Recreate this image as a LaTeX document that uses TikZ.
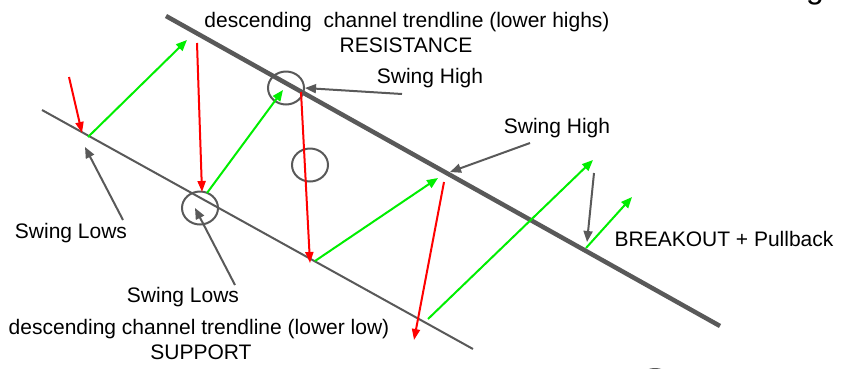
\documentclass[tikz,border=0pt]{standalone}
\usepackage{fontspec}
\setmainfont{Liberation Sans}
\usetikzlibrary{arrows.meta,shapes.geometric}
\definecolor{lgray}{HTML}{595959}
\definecolor{gred}{HTML}{FF0000}
\definecolor{ggreen}{HTML}{00EE00}
\begin{document}
\begin{tikzpicture}[x=1pt,y=-1pt,
  lbl/.style={inner sep=0pt, font=\fontsize{21}{25}\selectfont, anchor=base},
  redarr/.style={draw=gred, line width=2pt, -{Triangle[length=11pt,width=8pt]}},
  greenarr/.style={draw=ggreen, line width=2pt, -{Triangle[length=11pt,width=9pt]}},
  grayarr/.style={draw=lgray, line width=2pt, -{Triangle[length=11pt,width=9pt]}},
  ring/.style={draw=lgray, line width=2pt, ellipse, inner sep=0pt, minimum width=36pt, minimum height=33pt},
  resline/.style={draw=lgray, line width=4.5pt},
  supline/.style={draw=lgray, line width=2pt}]
\useasboundingbox (0,0) rectangle (845,368);
\clip (0,0) rectangle (845,368);
% trendlines
\coordinate (R1) at (166,16); \coordinate (R2) at (720,326);
\coordinate (S1) at (42,110); \coordinate (S2) at (473,349);
\draw[resline] (R1) -- (R2);
\draw[supline] (S1) -- (S2);
% circles
\node[ring] (c1) at (286,88) {};
\node[ring] (c2) at (310,165) {};
\node[ring] (c3) at (200,208) {};
\node[ring] (c4) at (655,385.5) {};
% red arrows
\coordinate (ra1) at (69,77);  \coordinate (rb1) at (82,133);
\coordinate (ra2) at (197,43); \coordinate (rb2) at (202,192);
\coordinate (ra3) at (301,92); \coordinate (rb3) at (310,263);
\coordinate (ra4) at (444,182); \coordinate (rb4) at (414,340);
\draw[redarr] (ra1) -- (rb1);
\draw[redarr] (ra2) -- (rb2);
\draw[redarr] (ra3) -- (rb3);
\draw[redarr] (ra4) -- (rb4);
% green arrows
\coordinate (ga1) at (88,137);  \coordinate (gb1) at (187,40);
\coordinate (ga2) at (207,193); \coordinate (gb2) at (283,90);
\coordinate (ga3) at (315,261); \coordinate (gb3) at (438,178);
\coordinate (ga4) at (428,319); \coordinate (gb4) at (593,160);
\coordinate (ga5) at (586,248); \coordinate (gb5) at (632,197);
\draw[greenarr] (ga1) -- (gb1);
\draw[greenarr] (ga2) -- (gb2);
\draw[greenarr] (ga3) -- (gb3);
\draw[greenarr] (ga4) -- (gb4);
\draw[greenarr] (ga5) -- (gb5);
% gray pointer arrows
\coordinate (pa1) at (402,94);  \coordinate (pb1) at (305,88);
\coordinate (pa2) at (530,143); \coordinate (pb2) at (450,172);
\coordinate (pa3) at (123,220); \coordinate (pb3) at (85,147);
\coordinate (pa4) at (235,285); \coordinate (pb4) at (195,208);
\coordinate (pa5) at (594,173); \coordinate (pb5) at (587,242);
\draw[grayarr] (pa1) -- (pb1);
\draw[grayarr] (pa2) -- (pb2);
\draw[grayarr] (pa3) -- (pb3);
\draw[grayarr] (pa4) -- (pb4);
\draw[grayarr] (pa5) -- (pb5);
% labels
\node[lbl] (t1) at (407,27) {descending~ channel trendline (lower highs)};
\node[lbl] (t2) at (406,52) {RESISTANCE};
\node[lbl] (t3) at (430,83) {Swing High};
\node[lbl] (t4) at (557,133) {Swing High};
\node[lbl] (t5) at (71,238) {Swing Lows};
\node[lbl] (t6) at (183,302) {Swing Lows};
\node[lbl] (t7) at (199,334) {descending channel trendline (lower low)};
\node[lbl] (t8) at (201,359) {SUPPORT};
\node[lbl] (t9) at (724,246) {BREAKOUT + Pullback};
\node[inner sep=0pt, anchor=base west, font=\fontsize{32}{36}\selectfont] (tg) at (806,-2) {g};
\end{tikzpicture}
\end{document}
